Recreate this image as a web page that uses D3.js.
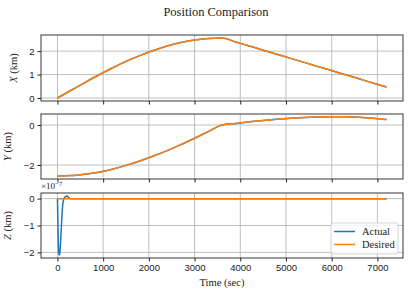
<!DOCTYPE html>
<html>
<head>
<meta charset="utf-8">
<script src="https://cdn.jsdelivr.net/npm/d3@7"></script>
<style>
  body { margin: 0; background: #fff; }
  svg { font-family: "Liberation Serif", "DejaVu Serif", serif; }
  .grid line { stroke: #b0b0b0; stroke-width: 0.8; }
  .axis path { display: none; }
  .axis line { stroke: #222; }
  .axis text { font-size: 9.5px; fill: #222; }
</style>
</head>
<body>
<script>
// time samples (sec)
var timeXY = [0, 300, 600, 900, 1200, 1500, 1800, 2100, 2400, 2700, 3000, 3300, 3600,
              3900, 4200, 4500, 4800, 5100, 5400, 5700, 6000, 6300, 6600, 6900, 7200];
var posX = [0, 0.33, 0.66, 0.98, 1.28, 1.56, 1.81, 2.03, 2.22, 2.37, 2.47, 2.54, 2.56,
            2.39, 2.22, 2.04, 1.87, 1.69, 1.52, 1.34, 1.17, 0.99, 0.82, 0.64, 0.47];
var posY = [-2.55, -2.53, -2.46, -2.36, -2.21, -2.02, -1.80, -1.55, -1.28, -0.98, -0.66, -0.33, 0,
            0.08, 0.16, 0.23, 0.29, 0.34, 0.38, 0.40, 0.41, 0.41, 0.39, 0.34, 0.27];
// z in units of 1e-7 km
var timeZ = [0, 10, 20, 30, 45, 60, 80, 100, 120, 150, 180, 210, 240, 270, 300, 7200];
var zActual = [0, -0.9, -1.7, -2.05, -2.1, -1.85, -1.25, -0.6, -0.15, 0.02, 0.08, 0.1, 0.05, 0.01, 0, 0];
var zDesired = [0, 0];
var timeZDesired = [0, 7200];

var xTicks = [0, 1000, 2000, 3000, 4000, 5000, 6000, 7000];
var legendNames = ["Actual", "Desired"];
var colors = ["#1f77b4", "#ff7f0e"];

var width = 415, height = 296;
var left = 41, right = 403;

var svg = d3.select("body").append("svg")
    .attr("width", width)
    .attr("height", height);

svg.append("text").text("Position Comparison")
    .attr("x", 216).attr("y", 16)
    .attr("text-anchor", "middle")
    .style("font-size", "12.5px").style("fill", "#222");

var x = d3.scaleLinear().domain([-360, 7560]).range([left, right]);

var panels = [
  {top: 35, bottom: 101, domain: [-0.128, 2.688], ticks: [0, 1, 2], label: "X",
   series: [[timeXY, posX], [timeXY, posX]], labelX: 17},
  {top: 114, bottom: 179, domain: [-2.70, 0.55], ticks: [-2, 0], label: "Y",
   series: [[timeXY, posY], [timeXY, posY]], labelX: 11},
  {top: 193, bottom: 258, domain: [-2.21, 0.21], ticks: [-2, -1, 0], label: "Z",
   series: [[timeZ, zActual], [timeZDesired, zDesired]], labelX: 11}
];

var fmt = function(d) { return d < 0 ? "\u2212" + Math.abs(d) : String(d); };

panels.forEach(function(p, i) {
  var y = d3.scaleLinear().domain(p.domain).range([p.bottom, p.top]);
  var g = svg.append("g");

  // grid
  var grid = g.append("g").attr("class", "grid");
  grid.selectAll(".vx").data(xTicks).enter().append("line")
      .attr("x1", function(d) { return x(d); }).attr("x2", function(d) { return x(d); })
      .attr("y1", p.top).attr("y2", p.bottom);
  grid.selectAll(".hy").data(p.ticks).enter().append("line")
      .attr("y1", function(d) { return y(d); }).attr("y2", function(d) { return y(d); })
      .attr("x1", left).attr("x2", right);

  // lines
  var clipId = "clip" + i;
  svg.append("clipPath").attr("id", clipId).append("rect")
      .attr("x", left).attr("y", p.top).attr("width", right - left).attr("height", p.bottom - p.top);
  var line = d3.line().curve(d3.curveMonotoneX)
      .x(function(d) { return x(d[0]); }).y(function(d) { return y(d[1]); });
  p.series.forEach(function(s, k) {
    var pts = s[0].map(function(t, j) { return [t, s[1][j]]; });
    g.append("path").datum(pts)
        .attr("clip-path", "url(#" + clipId + ")")
        .attr("d", line)
        .attr("fill", "none")
        .attr("stroke", colors[k])
        .attr("stroke-width", 1.5)
        .attr("stroke-linejoin", "round");
  });

  // axes
  var xAxis = d3.axisBottom(x).tickValues(xTicks).tickSize(3.5).tickPadding(3).tickFormat(d3.format("d"));
  if (i < 2) xAxis.tickFormat("");
  g.append("g").attr("class", "axis")
      .attr("transform", "translate(0," + p.bottom + ")")
      .call(xAxis);
  g.append("g").attr("class", "axis")
      .attr("transform", "translate(" + left + ",0)")
      .call(d3.axisLeft(y).tickValues(p.ticks).tickSize(3.5).tickPadding(3).tickFormat(fmt));

  // frame
  g.append("rect")
      .attr("x", left).attr("y", p.top)
      .attr("width", right - left).attr("height", p.bottom - p.top)
      .attr("fill", "none").attr("stroke", "#222").attr("stroke-width", 0.9);

  // y label
  var lbl = g.append("text")
      .attr("transform", "translate(" + p.labelX + "," + ((p.top + p.bottom) / 2) + ") rotate(-90)")
      .attr("text-anchor", "middle")
      .style("font-size", "10.5px").style("fill", "#222");
  lbl.append("tspan").style("font-style", "italic").text(p.label);
  lbl.append("tspan").text(" (km)");
});

// offset text for z panel
var off = svg.append("text").attr("x", 41).attr("y", 189)
    .style("font-size", "9px").style("fill", "#222");
off.append("tspan").text("\u00d710");
off.append("tspan").attr("dy", -3.5).style("font-size", "7px").text("\u22127");

// x label
svg.append("text").text("Time (sec)")
    .attr("x", (left + right) / 2).attr("y", 286)
    .attr("text-anchor", "middle")
    .style("font-size", "10.5px").style("fill", "#222");

// legend
var lg = svg.append("g").attr("transform", "translate(331,223)");
lg.append("rect").attr("width", 67).attr("height", 31).attr("rx", 2)
    .attr("fill", "#fff").attr("fill-opacity", 0.8)
    .attr("stroke", "#ccc").attr("stroke-width", 0.8);
legendNames.forEach(function(n, k) {
  var yy = 8.5 + k * 13;
  lg.append("line").attr("x1", 3).attr("x2", 24).attr("y1", yy).attr("y2", yy)
      .attr("stroke", colors[k]).attr("stroke-width", 1.5);
  lg.append("text").text(n).attr("x", 31).attr("y", yy + 3.5)
      .style("font-size", "10.5px").style("fill", "#222");
});
</script>
</body>
</html>
